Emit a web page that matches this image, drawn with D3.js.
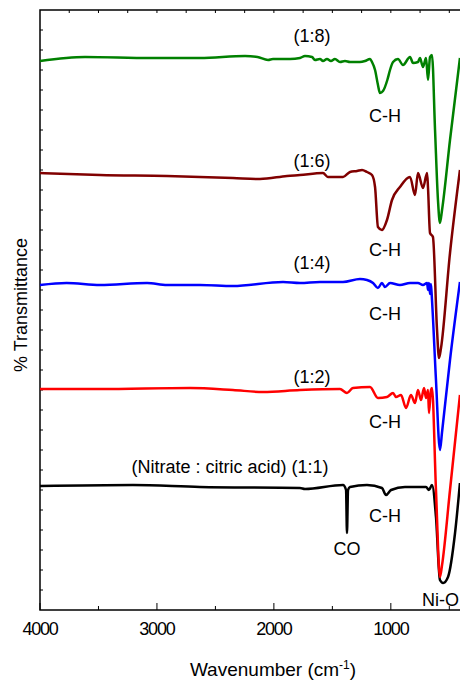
<!DOCTYPE html>
<html>
<head>
<meta charset="utf-8">
<script src="https://cdn.jsdelivr.net/npm/d3@7"></script>
<style>
  html, body { margin: 0; padding: 0; background: #fff; }
  svg { display: block; font-family: "Liberation Sans", Arial, sans-serif; }
</style>
</head>
<body>
<svg id="chart" width="460" height="680"></svg>
<script>
// FTIR spectra, [wavenumber, transmittance (a.u., stacked)]
const ratio18 = [[4000,549],[3615,553],[3059,552],[2632,552],[2247,554],[2140,553],[2050,550],[2008,551],[1862,551],[1777,552],[1734,554],[1674,553],[1649,550],[1606,551],[1580,549],[1546,551],[1512,549],[1478,551],[1435,548],[1392,549],[1349,548],[1264,548],[1221,549],[1178,551],[1161,548],[1135,540],[1110,525],[1093,517],[1067,519],[1030,530],[1007,540],[981,548],[939,551],[896,545],[836,553],[810,547],[768,548],[751,552],[725,543],[699,552],[682,530],[665,553],[648,555],[622,480],[597,410],[580,387],[562,400],[494,470],[409,552]];

const ratio16 = [[4000,437],[3487,435],[2914,434],[2350,432],[2119,431],[1888,434],[1777,435],[1580,437],[1538,433],[1409,433],[1349,438],[1289,439],[1246,440],[1204,438],[1161,435],[1135,423],[1110,383],[1076,380],[1033,390],[990,410],[922,423],[836,433],[793,415],[768,437],[725,422],[690,437],[682,422],[665,377],[640,373],[605,280],[588,252],[571,262],[494,357],[409,440]];

const ratio14 = [[4000,325],[3773,327],[3487,325],[3085,327],[2914,325],[2632,325],[2350,324],[1922,328],[1777,327],[1606,328],[1409,328],[1264,331],[1204,330],[1152,327],[1110,322],[1076,327],[1050,323],[1007,327],[922,325],[836,327],[768,327],[725,325],[690,327],[682,320],[674,327],[665,316],[657,326],[648,310],[614,230],[580,160],[562,178],[494,250],[409,328]];

const ratio12 = [[4000,221],[3487,221],[2717,222],[2350,220],[2093,218],[1777,220],[1435,221],[1375,217],[1324,222],[1178,223],[1110,212],[1033,213],[981,217],[956,213],[913,215],[870,202],[828,215],[793,207],[768,220],[742,210],[716,222],[699,212],[682,220],[674,197],[657,220],[648,222],[614,120],[580,33],[562,45],[494,120],[409,215]];

const ratio11 = [[4000,124],[3205,125],[2632,123],[1777,122],[1734,121],[1409,125],[1383,120],[1375,77],[1366,120],[1349,123],[1204,125],[1076,122],[1041,115],[998,120],[879,123],[699,123],[674,120],[648,125],[614,93],[580,30],[553,27],[511,33],[451,77],[409,127]];

const seriesNames = ["(Nitrate : citric acid) (1:1)", "(1:2)", "(1:4)", "(1:6)", "(1:8)"];
const seriesData = [ratio11, ratio12, ratio14, ratio16, ratio18];
const seriesColors = ["#000000", "#ff0000", "#0000ff", "#800000", "#008000"];

// band annotations [wavenumber, value]
const chLabels = [[1050, 88], [1050, 182], [1050, 290], [1050, 354], [1050, 488]];
const nameLabels = [[2375, 137], [1674, 227], [1674, 341], [1674, 443], [1674, 568]];
const coLabel = [1375, 55];
const nioLabel = [733, 4];

const xTicks = [4000, 3000, 2000, 1000];

const svg = d3.select("#chart");
const margin = { left: 40, right: -1, top: 10, bottom: 70 };
const width = 460, height = 680;

const x = d3.scaleLinear().domain([4000, 400]).range([margin.left, width - margin.right]);
const y = d3.scaleLinear().domain([0, 600]).range([height - margin.bottom, margin.top]);

// frame
svg.append("rect")
    .attr("x", x(4000)).attr("y", y(600))
    .attr("width", x(400) - x(4000)).attr("height", y(0) - y(600))
    .attr("fill", "none").attr("stroke", "#000").attr("stroke-width", 1.5);

// bottom ticks (inside)
const bottom = svg.append("g").attr("transform", `translate(0,${y(0)})`);
bottom.selectAll("line.major").data(d3.range(4000, 399, -1000)).join("line")
    .attr("class", "major")
    .attr("x1", d => x(d)).attr("x2", d => x(d)).attr("y1", 0).attr("y2", -7)
    .attr("stroke", "#000").attr("stroke-width", 1);
bottom.selectAll("line.minor").data(d3.range(3500, 399, -1000)).join("line")
    .attr("class", "minor")
    .attr("x1", d => x(d)).attr("x2", d => x(d)).attr("y1", 0).attr("y2", -4)
    .attr("stroke", "#000").attr("stroke-width", 1);
bottom.selectAll("text").data(xTicks).join("text")
    .attr("x", d => x(d)).attr("y", 25)
    .attr("text-anchor", "middle")
    .attr("font-size", 18).attr("letter-spacing", -1.2)
    .text(d => d);

// top ticks
svg.append("g").selectAll("line").data(d3.range(3750, 399, -250)).join("line")
    .attr("x1", d => x(d)).attr("x2", d => x(d)).attr("y1", y(600)).attr("y2", y(600) + 3)
    .attr("stroke", "#000").attr("stroke-width", 1);

// left ticks
svg.append("g").selectAll("line").data(d3.range(20, 600, 20)).join("line")
    .attr("x1", x(4000)).attr("x2", x(4000) + 3).attr("y1", d => y(d)).attr("y2", d => y(d))
    .attr("stroke", "#000").attr("stroke-width", 1);

// spectra
const line = d3.line()
    .x(d => x(d[0]))
    .y(d => y(d[1]))
    .curve(d3.curveMonotoneX);

svg.append("g").selectAll("path").data(seriesData).join("path")
    .attr("d", line)
    .attr("fill", "none")
    .attr("stroke", (d, i) => seriesColors[i])
    .attr("stroke-width", 2.5)
    .attr("stroke-linejoin", "round");

// labels
const labels = svg.append("g").attr("font-size", 18).attr("fill", "#000");
labels.selectAll("text.name").data(nameLabels).join("text")
    .attr("class", "name")
    .attr("x", d => x(d[0])).attr("y", d => y(d[1]))
    .attr("text-anchor", "middle")
    .text((d, i) => seriesNames[i]);
labels.selectAll("text.ch").data(chLabels).join("text")
    .attr("class", "ch")
    .attr("x", d => x(d[0])).attr("y", d => y(d[1]))
    .attr("text-anchor", "middle")
    .text("C-H");
labels.append("text")
    .attr("x", x(coLabel[0])).attr("y", y(coLabel[1]))
    .attr("text-anchor", "middle").text("CO");
labels.append("text")
    .attr("x", x(nioLabel[0])).attr("y", y(nioLabel[1]))
    .attr("text-anchor", "start").text("Ni-O");

// axis titles
const xt = svg.append("text")
    .attr("x", 273).attr("y", 676)
    .attr("text-anchor", "middle").attr("font-size", 19);
xt.append("tspan").text("Wavenumber (cm");
xt.append("tspan").attr("dy", -7).attr("font-size", 12).text("-1");
xt.append("tspan").attr("dy", 7).text(")");

svg.append("text")
    .attr("transform", "translate(27,305) rotate(-90)")
    .attr("text-anchor", "middle").attr("font-size", 18)
    .text("% Transmittance");
</script>
</body>
</html>
